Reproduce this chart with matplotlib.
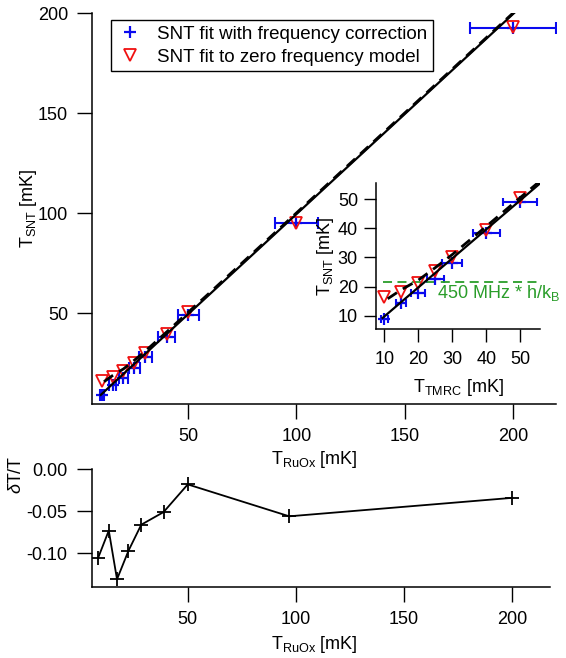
import numpy as np
import matplotlib.pyplot as plt

plt.rcParams['font.family'] = ['Liberation Sans', 'DejaVu Sans']
plt.rcParams['mathtext.fontset'] = 'custom'
plt.rcParams['mathtext.rm'] = 'Liberation Sans'
plt.rcParams['mathtext.it'] = 'Liberation Sans:italic'
plt.rcParams['axes.unicode_minus'] = False

# nominal temperatures and SNT results (mK)
t_nominal = [10, 15, 20, 25, 30, 40, 50, 100, 200]
t_err = [1.0, 1.5, 2.0, 2.5, 3.0, 4.0, 5.0, 10.0, 20.0]
t_snt_freq = [9.0, 14.3, 17.8, 22.5, 28.2, 38.3, 49.0, 95.0, 192.8]
t_snt_zero = [16.3, 18.1, 21.1, 25.3, 30.0, 39.6, 50.5, 95.3, 193.3]

# fit lines
fit_x = [9.5, 210.0]
fit_y = [9.2, 209.5]
zero_x = [11, 15, 20, 25, 30, 40, 50, 60, 100, 210]
zero_y = [15.8, 18.9, 22.2, 26.5, 31.0, 40.7, 50.6, 60.4, 100.2, 210.0]

# 450 MHz * h / kB level
hf_x = [9.7, 56.0]
hf_level = 21.6

# relative deviation
dev_x = [8.5, 13.5, 17.3, 22.6, 28.5, 38.8, 50.0, 96.9, 200.0]
dev_y = [-0.106, -0.073, -0.131, -0.097, -0.066, -0.051, -0.018, -0.056, -0.034]

blue = '#0a0aef'
red = '#f01010'
green = '#2a9d2a'

fig = plt.figure(figsize=(5.66, 6.58), dpi=100)


def style(ax, length=10.5, pad=7):
    for s in ['top', 'right']:
        ax.spines[s].set_visible(False)
    for s in ['left', 'bottom']:
        ax.spines[s].set_linewidth(1.1)
    ax.tick_params(direction='out', length=length, width=1.0, labelsize=13, pad=pad)


def draw_points(ax, cap=4.5):
    ax.errorbar(t_nominal, t_snt_freq, xerr=t_err, fmt='none', ecolor=blue,
                elinewidth=1.5, capsize=cap, capthick=1.5, zorder=2)
    ax.plot(t_nominal, t_snt_freq, '+', color=blue, ms=9, mew=1.6, zorder=3,
            label='SNT fit with frequency correction')
    ax.plot(t_nominal, t_snt_zero, 'v', mfc='none', mec=red, ms=8, mew=1.3, zorder=4,
            label='SNT fit to zero frequency model')
    ax.plot(fit_x, fit_y, 'k-', lw=1.6, zorder=5)
    ax.plot(zero_x, zero_y, 'k--', lw=2.0, dashes=(4, 2.5), zorder=5)


# main panel
ax = fig.add_axes([0.1631, 0.386, 0.8193, 0.5938])
style(ax)
draw_points(ax)
ax.set_xlim(5.6, 220)
ax.set_ylim(4.65, 200)
ax.set_xticks([50, 100, 150, 200])
ax.set_yticks([50, 100, 150, 200])
ax.set_xlabel(r'T$_{\mathrm{RuOx}}$ [mK]', fontsize=13)
ax.set_ylabel(r'T$_{\mathrm{SNT}}$ [mK]', fontsize=13)
ax.xaxis.set_label_coords(0.478, -0.115)
ax.yaxis.set_label_coords(-0.115, 0.5)
ax.legend(loc='upper left', bbox_to_anchor=(0.1956, 0.9696), bbox_transform=fig.transFigure,
          borderaxespad=0, fontsize=13.5, fancybox=False, framealpha=1, edgecolor='black',
          handlelength=1.5, handletextpad=0.65, labelspacing=0.3, borderpad=0.3)
ax.get_legend().get_frame().set_linewidth(1.0)

# inset
ins = fig.add_axes([0.6643, 0.5, 0.2898, 0.2214])
style(ins, length=9, pad=4)
ins.patch.set_alpha(0)
draw_points(ins, cap=3)
ins.plot(hf_x, [hf_level, hf_level], '--', color=green, lw=1.3, dashes=(5, 3), clip_on=False)
ins.text(25.4, 17.8, r'450 MHz * h/k$_{\mathrm{B}}$', color=green, fontsize=13, va='center')
ins.set_xlim(7.56, 55.8)
ins.set_ylim(5.4, 55.5)
ins.set_xticks([10, 20, 30, 40, 50])
ins.set_yticks([10, 20, 30, 40, 50])
ins.tick_params(axis='x', pad=7)
ins.set_xlabel(r'T$_{\mathrm{TMRC}}$ [mK]', fontsize=13)
ins.set_ylabel(r'T$_{\mathrm{SNT}}$ [mK]', fontsize=13)
ins.xaxis.set_label_coords(0.5, -0.33)
ins.yaxis.set_label_coords(-0.245, 0.5)

# deviation panel
bx = fig.add_axes([0.162, 0.1084, 0.8097, 0.1784])
style(bx)
bx.patch.set_visible(False)
bx.plot(dev_x, dev_y, 'k-', marker='+', ms=10, mew=1.3, lw=1.3)
bx.set_xlim(5.6, 217.4)
bx.set_ylim(-0.1398, 0.0)
bx.set_xticks([50, 100, 150, 200])
bx.set_yticks([0.0, -0.05, -0.10])
bx.yaxis.set_major_formatter(plt.FormatStrFormatter('%.2f'))
bx.set_xlabel(r'T$_{\mathrm{RuOx}}$ [mK]', fontsize=13)
bx.set_ylabel(r'$\delta$T/T', fontsize=13)
bx.xaxis.set_label_coords(0.485, -0.40)
bx.yaxis.set_label_coords(-0.145, 0.95)

fig.savefig('out.png', dpi=100)
